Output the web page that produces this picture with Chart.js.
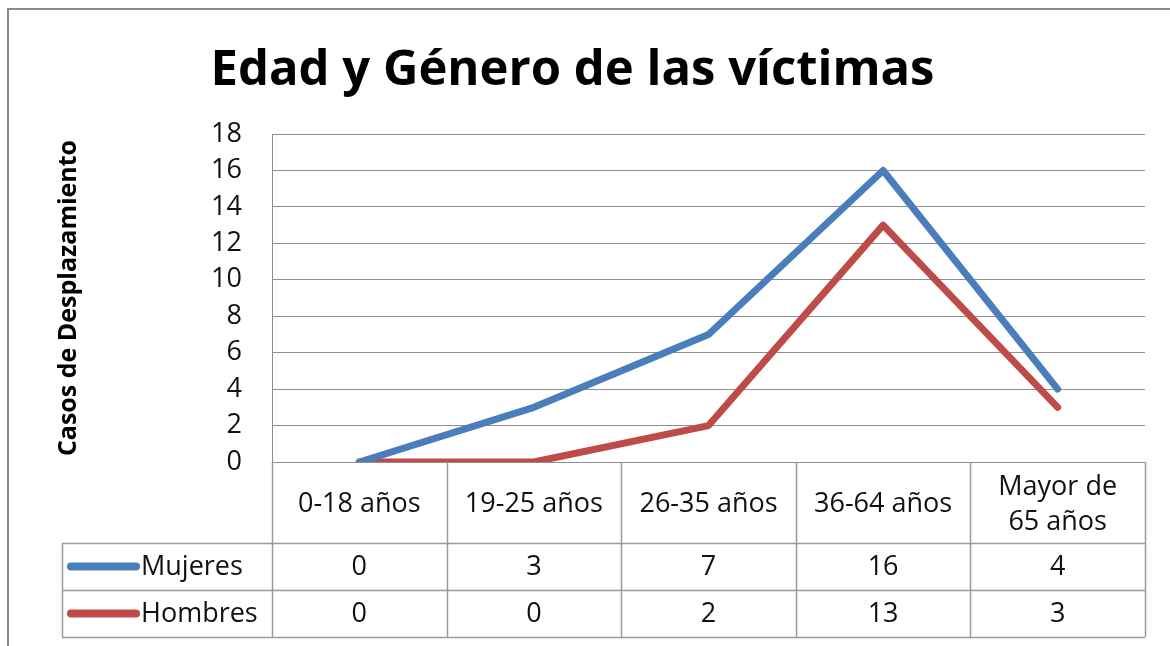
<!DOCTYPE html>
<html>
<head>
<meta charset="utf-8">
<script src="https://cdn.jsdelivr.net/npm/chart.js@4.4.1/dist/chart.umd.min.js"></script>
<style>
  html, body { margin: 0; padding: 0; background: #fff; }
  #wrap { position: absolute; left: 0; top: 0; width: 1170px; height: 646px; }
</style>
</head>
<body>
<div id="wrap"><canvas id="chart"></canvas></div>
<script>
// Data
const categories = ['0-18 años', '19-25 años', '26-35 años', '36-64 años', 'Mayor de 65 años'];
const headerLines = [['0-18 años'], ['19-25 años'], ['26-35 años'], ['36-64 años'], ['Mayor de', '65 años']];
const mujeres = [0, 3, 7, 16, 4];
const hombres = [0, 0, 2, 13, 3];
const yMin = 0;
const yMax = 18;
const yStep = 2;

const FONT = '"Open Sans", Lato, sans-serif';
const BLUE = '#4a7ebb';
const RED = '#be4b48';
const GRID = '#8e8e8e';

const series = [
  { label: 'Mujeres', values: mujeres, color: BLUE },
  { label: 'Hombres', values: hombres, color: RED }
];

// Frame + data table drawn below the plot, columns taken from the x scale
const tablePlugin = {
  id: 'dataTable',
  beforeDraw(chart) {
    const ctx = chart.ctx;
    ctx.save();
    ctx.strokeStyle = '#8a8a8a';
    ctx.lineWidth = 2;
    ctx.beginPath();
    ctx.moveTo(8, 646);
    ctx.lineTo(8, 9);
    ctx.lineTo(1170, 9);
    ctx.stroke();
    ctx.restore();
  },
  afterDraw(chart) {
    const ctx = chart.ctx;
    const area = chart.chartArea;
    const xs = chart.scales.x;
    const n = categories.length;
    const colW = (area.right - area.left) / n;
    const top = area.bottom;
    const headBottom = 543;
    const rowH = 47;
    const tableLeft = 62;
    const bottom = headBottom + rowH * series.length;

    ctx.save();
    ctx.strokeStyle = '#9a9a9a';
    ctx.lineWidth = 1.5;
    ctx.beginPath();
    for (let i = 0; i <= n; i++) {
      const x = Math.round(area.left + i * colW) + 0.5;
      ctx.moveTo(x, top);
      ctx.lineTo(x, bottom);
    }
    ctx.moveTo(tableLeft + 0.5, headBottom);
    ctx.lineTo(tableLeft + 0.5, bottom);
    for (let r = 0; r <= series.length; r++) {
      const y = headBottom + r * rowH + 0.5;
      ctx.moveTo(tableLeft, y);
      ctx.lineTo(area.right, y);
    }
    ctx.stroke();

    ctx.fillStyle = '#111';
    ctx.textAlign = 'center';
    ctx.textBaseline = 'middle';
    ctx.font = '27px ' + FONT;
    const headMid = (top + headBottom) / 2 + 2;
    headerLines.forEach((lines, i) => {
      const cx = xs.getPixelForValue(i);
      const lh = 35;
      lines.forEach((t, j) => {
        ctx.fillText(t, cx, headMid + (j - (lines.length - 1) / 2) * lh);
      });
    });

    series.forEach((s, r) => {
      const cy = headBottom + r * rowH + rowH / 2 + 1;
      s.values.forEach((v, i) => {
        ctx.fillText(String(v), xs.getPixelForValue(i), cy);
      });
      // legend key
      ctx.strokeStyle = s.color;
      ctx.lineWidth = 8;
      ctx.lineCap = 'round';
      ctx.beginPath();
      ctx.moveTo(71, cy - 1);
      ctx.lineTo(136, cy - 1);
      ctx.stroke();
      ctx.textAlign = 'left';
      ctx.fillText(s.label, 141, cy);
      ctx.textAlign = 'center';
    });
    ctx.restore();
  }
};

new Chart(document.getElementById('chart'), {
  type: 'line',
  data: {
    labels: categories,
    datasets: series.map(s => ({
      label: s.label,
      data: s.values,
      borderColor: s.color,
      backgroundColor: s.color,
      borderWidth: 7,
      borderJoinStyle: 'round',
      borderCapStyle: 'round',
      tension: 0,
      pointRadius: 0,
      fill: false
    }))
  },
  options: {
    responsive: true,
    maintainAspectRatio: false,
    animation: false,
    devicePixelRatio: 1,
    layout: {
      autoPadding: false,
      padding: { left: 0, right: 25, top: 10, bottom: 184 }
    },
    plugins: {
      legend: { display: false },
      tooltip: { enabled: false },
      title: {
        display: true,
        text: 'Edad y Género de las víctimas',
        color: '#000',
        font: { family: FONT, size: 49, weight: 'bold', lineHeight: 1.2 },
        padding: { top: 32, bottom: 33.2 }
      }
    },
    scales: {
      x: {
        type: 'category',
        display: false,
        offset: true
      },
      y: {
        min: yMin,
        max: yMax,
        afterFit(scale) { scale.width = 272; },
        ticks: {
          stepSize: yStep,
          padding: 30,
          color: '#111',
          font: { family: FONT, size: 27 }
        },
        grid: { color: GRID, lineWidth: 1, drawTicks: false },
        border: { display: true, color: GRID, width: 1 },
        title: {
          display: true,
          text: 'Casos de Desplazamiento',
          color: '#000',
          font: { family: FONT, size: 25, weight: 'bold' },
          padding: { top: 54, bottom: 0 }
        }
      }
    }
  },
  plugins: [tablePlugin]
});
</script>
</body>
</html>
